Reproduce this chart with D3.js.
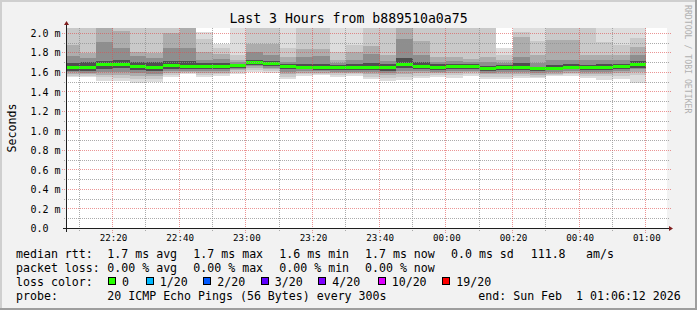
<!DOCTYPE html>
<html>
<head>
<meta charset="utf-8">
<script src="https://cdnjs.cloudflare.com/ajax/libs/d3/7.8.5/d3.min.js"></script>
<style>
  body { margin: 0; background: #f2f2f2; }
  svg text { font-family: "DejaVu Sans Mono", monospace; fill: #000; }
</style>
</head>
<body>
<div id="plot"></div>
<script>
// ---- chart data ----
const title = "Last 3 Hours from b889510a0a75";
const yLabel = "Seconds";
const watermark = "RRDTOOL / TOBI OETIKER";

const yTicks = [0, 0.2, 0.4, 0.6, 0.8, 1.0, 1.2, 1.4, 1.6, 1.8, 2.0];
const yMinorTicks = [0.1, 0.3, 0.5, 0.7, 0.9, 1.1, 1.3, 1.5, 1.7, 1.9];
const xTickLabels = ["22:20", "22:40", "23:00", "23:20", "23:40", "00:00", "00:20", "00:40", "01:00"];
const xMinorLabels = ["22:10", "22:30", "22:50", "23:10", "23:30", "23:50", "00:10", "00:30", "00:50"];

// median rtt per 5 minute step (ms), 22:10 .. 01:00
const median = [1.643, 1.645, 1.68, 1.68, 1.66, 1.645, 1.665, 1.66, 1.655, 1.655,
  1.67, 1.70, 1.69, 1.653, 1.65, 1.645, 1.65, 1.65, 1.65, 1.645,
  1.675, 1.66, 1.645, 1.66, 1.652, 1.64, 1.645, 1.65, 1.635, 1.64,
  1.65, 1.643, 1.645, 1.655, 1.675];
// lost pings out of 20 per step
const loss = [0, 0, 0, 0, 0, 0, 0, 0, 0, 0, 0, 0, 0, 0, 0, 0, 0, 0, 0, 0,
  0, 0, 0, 0, 0, 0, 0, 0, 0, 0, 0, 0, 0, 0, 0];
// smoke: upper edges (outermost hi1 .. innermost hi5), ms
const hi1 = [2.3, 2.3, 2.3, 2.3, 2.3, 2.3, 2.3, 2.3, 2.01, 1.89,
  2.3, 2.3, 2.3, 2.3, 2.3, 2.3, 2.3, 2.3, 2.3, 2.3,
  2.3, 2.3, 2.3, 2.3, 2.3, 2.3, 1.846, 2.3, 2.3, 2.3,
  2.3, 2.3, 2.3, 2.3, 2.3];
const hi2 = [2.2, 2.2, 2.2, 2.2, 2.2, 2.2, 2.07, 2.2, 1.94, 1.84,
  1.77, 2.2, 2.2, 1.84, 2.2, 2.2, 1.80, 1.88, 2.2, 2.2,
  2.2, 2.2, 2.2, 2.2, 2.2, 2.2, 1.775, 2.007, 1.92, 2.2,
  2.2, 2.2, 1.905, 1.88, 1.95];
const hi3 = [1.88, 1.79, 2.2, 2.02, 1.80, 1.79, 2.0, 2.2, 1.80, 1.78,
  1.72, 1.89, 1.89, 1.75, 1.83, 1.83, 1.72, 1.80, 1.87, 1.775,
  2.2, 1.92, 1.755, 1.755, 1.735, 1.755, 1.72, 1.96, 1.775, 1.93,
  1.93, 1.775, 1.775, 1.775, 1.855];
const hi4 = [1.76, 1.745, 1.91, 1.85, 1.76, 1.74, 1.85, 1.85, 1.72, 1.73,
  1.70, 1.80, 1.77, 1.70, 1.75, 1.76, 1.69, 1.72, 1.78, 1.71,
  1.94, 1.775, 1.70, 1.71, 1.70, 1.70, 1.69, 1.75, 1.69, 1.72,
  1.72, 1.72, 1.72, 1.72, 1.775];
const hi5 = [1.69, 1.70, 1.71, 1.72, 1.70, 1.70, 1.71, 1.71, 1.69, 1.69,
  1.685, 1.72, 1.71, 1.68, 1.68, 1.68, 1.67, 1.68, 1.69, 1.68,
  1.745, 1.70, 1.68, 1.685, 1.68, 1.66, 1.67, 1.69, 1.655, 1.67,
  1.68, 1.67, 1.68, 1.685, 1.71];
// smoke: lower edges (innermost lo5 .. outermost lo1), ms
const lo5 = [1.613, 1.61, 1.63, 1.64, 1.62, 1.61, 1.63, 1.63, 1.625, 1.63,
  1.645, 1.675, 1.665, 1.625, 1.625, 1.62, 1.62, 1.62, 1.62, 1.61,
  1.64, 1.63, 1.615, 1.63, 1.625, 1.61, 1.62, 1.62, 1.61, 1.615,
  1.625, 1.615, 1.615, 1.63, 1.645];
const lo4 = [1.60, 1.59, 1.60, 1.60, 1.59, 1.58, 1.61, 1.61, 1.61, 1.61,
  1.63, 1.66, 1.645, 1.60, 1.61, 1.605, 1.60, 1.60, 1.60, 1.59,
  1.61, 1.61, 1.60, 1.61, 1.61, 1.59, 1.60, 1.60, 1.59, 1.60,
  1.61, 1.60, 1.60, 1.61, 1.625];
const lo3 = [1.58, 1.575, 1.57, 1.57, 1.56, 1.56, 1.59, 1.60, 1.59, 1.59,
  1.615, 1.64, 1.625, 1.58, 1.59, 1.59, 1.585, 1.59, 1.575, 1.57,
  1.58, 1.585, 1.585, 1.59, 1.595, 1.575, 1.575, 1.58, 1.57, 1.58,
  1.59, 1.58, 1.58, 1.59, 1.60];
const lo2 = [1.56, 1.56, 1.55, 1.54, 1.53, 1.53, 1.57, 1.59, 1.57, 1.575,
  1.60, 1.62, 1.61, 1.55, 1.575, 1.58, 1.57, 1.575, 1.55, 1.54,
  1.55, 1.56, 1.57, 1.565, 1.575, 1.55, 1.55, 1.56, 1.55, 1.57,
  1.575, 1.56, 1.56, 1.56, 1.57];
const lo1 = [1.545, 1.545, 1.51, 1.51, 1.49, 1.50, 1.55, 1.58, 1.55, 1.56,
  1.58, 1.60, 1.59, 1.525, 1.56, 1.565, 1.545, 1.56, 1.525, 1.51,
  1.52, 1.535, 1.55, 1.535, 1.555, 1.525, 1.525, 1.535, 1.535, 1.555,
  1.56, 1.54, 1.52, 1.525, 1.49];

const lossLabels = ["0", "1/20", "2/20", "3/20", "4/20", "10/20", "19/20"];
const lossSteps = [0, 1, 2, 3, 4, 10, 19];
const lossColors = ["#26ff00", "#00b8ff", "#0059ff", "#5e00ff", "#7e00ff", "#dd00ff", "#ff0000"];

const rttStats = ["1.7 ms avg", "1.7 ms max", "1.6 ms min", "1.7 ms now", "0.0 ms sd", "111.8", "am/s"];
const lossStats = ["0.00 % avg", "0.00 % max", "0.00 % min", "0.00 % now"];
const probeText = "20 ICMP Echo Pings (56 Bytes) every 300s";
const endText = "end: Sun Feb  1 01:06:12 2026";

const startTime = new Date(2026, 0, 31, 22, 6, 12);
const endTime = new Date(2026, 1, 1, 1, 6, 12);
const stepEnds = d3.timeMinutes(new Date(2026, 0, 31, 22, 10), new Date(2026, 1, 1, 1, 1), 5);

function labelToDate(s) {
  const p = s.split(":").map(Number);
  return p[0] >= 12 ? new Date(2026, 0, 31, p[0], p[1]) : new Date(2026, 1, 1, p[0], p[1]);
}

drawChart();

function drawChart() {
  const width = 697;
  const height = 310;
  const left = 67, right = 667, top = 28, bottom = 228;

  const svg = d3.select("#plot").append("svg")
    .attr("width", width)
    .attr("height", height);

  svg.append("rect").attr("width", width).attr("height", height).attr("fill", "#f2f2f2");
  // shaded frame
  svg.append("rect").attr("x", 0).attr("y", 0).attr("width", width).attr("height", 2).attr("fill", "#cfcfcf");
  svg.append("rect").attr("x", 0).attr("y", 0).attr("width", 2).attr("height", height).attr("fill", "#cfcfcf");
  svg.append("rect").attr("x", 0).attr("y", height - 2).attr("width", width).attr("height", 2).attr("fill", "#9e9e9e");
  svg.append("rect").attr("x", width - 2).attr("y", 0).attr("width", 2).attr("height", height).attr("fill", "#9e9e9e");

  const x = d3.scaleTime().domain([startTime, endTime]).range([left, right]);
  const y = d3.scaleLinear().domain([0, 2.05]).range([bottom, top]);

  svg.append("rect")
    .attr("x", left).attr("y", top)
    .attr("width", right - left).attr("height", bottom - top)
    .attr("fill", "#fff");

  svg.append("clipPath").attr("id", "clip")
    .append("rect")
    .attr("x", left).attr("y", top)
    .attr("width", right - left).attr("height", bottom - top);

  // smoke
  const hiBands = [hi1, hi2, hi3, hi4, hi5];
  const loBands = [lo1, lo2, lo3, lo4, lo5];
  const smokeColors = ["#dddddd", "#c9c9c9", "#adadad", "#8e8e8e", "#4f4f4f"];
  const smoke = svg.append("g").attr("clip-path", "url(#clip)").attr("shape-rendering", "crispEdges");

  hiBands.forEach(function (hi, i) {
    smoke.append("g")
      .selectAll("rect")
      .data(stepEnds)
      .enter()
      .append("rect")
      .attr("x", (d) => x(d3.timeMinute.offset(d, -5)))
      .attr("width", (d) => x(d) - x(d3.timeMinute.offset(d, -5)))
      .attr("y", (d, k) => y(hi[k]))
      .attr("height", (d, k) => y(loBands[i][k]) - y(hi[k]))
      .attr("fill", smokeColors[i]);
  });

  const lossColor = d3.scaleThreshold().domain(lossSteps.slice(1)).range(lossColors);

  smoke.append("g")
    .selectAll("rect")
    .data(stepEnds)
    .enter()
    .append("rect")
    .attr("x", (d) => x(d3.timeMinute.offset(d, -5)))
    .attr("width", (d) => x(d) - x(d3.timeMinute.offset(d, -5)))
    .attr("y", (d, k) => y(median[k]) - 1.5)
    .attr("height", 3)
    .attr("fill", (d, k) => lossColor(loss[k]));

  // grid, 1px dotted lines on pixel centres
  const grid = svg.append("g").attr("shape-rendering", "crispEdges");
  const pxX = (v) => Math.floor(v - 0.5) + 0.5;
  const pxY = (v) => Math.round(v) + 0.5;
  const minorCol = "rgba(143,143,143,0.75)";
  const majorCol = "rgba(222,79,79,0.6)";

  grid.selectAll(".hminor").data(yMinorTicks).enter().append("line")
    .attr("x1", left - 3).attr("x2", right + 2)
    .attr("y1", (d) => pxY(y(d))).attr("y2", (d) => pxY(y(d)))
    .attr("stroke", minorCol).attr("stroke-dasharray", "1,1");
  grid.selectAll(".vminor").data(xMinorLabels.map(labelToDate)).enter().append("line")
    .attr("x1", (d) => pxX(x(d))).attr("x2", (d) => pxX(x(d)))
    .attr("y1", top).attr("y2", bottom + 3)
    .attr("stroke", minorCol).attr("stroke-dasharray", "1,1");
  grid.selectAll(".hmajor").data(yTicks.slice(1)).enter().append("line")
    .attr("x1", left - 5).attr("x2", right + 4)
    .attr("y1", (d) => pxY(y(d))).attr("y2", (d) => pxY(y(d)))
    .attr("stroke", majorCol).attr("stroke-dasharray", "1,1");
  grid.selectAll(".vmajor").data(xTickLabels.map(labelToDate)).enter().append("line")
    .attr("x1", (d) => pxX(x(d))).attr("x2", (d) => pxX(x(d)))
    .attr("y1", top).attr("y2", bottom + 5)
    .attr("stroke", majorCol).attr("stroke-dasharray", "1,1");

  // axes with labels
  const xAxis = d3.axisBottom(x)
    .tickValues(xTickLabels.map(labelToDate))
    .tickFormat((d, i) => xTickLabels[i])
    .tickSize(0);
  const gx = svg.append("g").attr("transform", `translate(0, ${bottom})`).call(xAxis);
  gx.select(".domain").remove();
  gx.selectAll(".tick line").remove();
  gx.selectAll(".tick text")
    .attr("y", 12.7).attr("dy", 0)
    .style("font-size", "9.2px").attr("fill", "#000");

  const yAxis = d3.axisLeft(y)
    .tickValues(yTicks)
    .tickFormat((d) => (d === 0 ? "0.0" : d3.format(".1f")(d) + " m"))
    .tickSize(0);
  const gy = svg.append("g").attr("transform", `translate(${left}, 0)`).call(yAxis);
  gy.select(".domain").remove();
  gy.selectAll(".tick line").remove();
  gy.selectAll(".tick text")
    .attr("x", 30.5 - left).attr("dy", 3.6)
    .attr("text-anchor", "start")
    .style("font-size", "10px").attr("fill", "#000");

  // axis lines and arrows
  svg.append("line").attr("x1", left - 0.5).attr("x2", left - 0.5)
    .attr("y1", bottom + 4).attr("y2", top - 4)
    .attr("stroke", "#1f1f1f");
  svg.append("line").attr("x1", left - 4).attr("x2", right + 3)
    .attr("y1", bottom + 0.5).attr("y2", bottom + 0.5)
    .attr("stroke", "#1f1f1f");
  svg.append("path")
    .attr("d", `M${left - 3},${top - 3} L${left - 0.5},${top - 7} L${left + 2},${top - 3} Z`)
    .attr("fill", "#801f1f");
  svg.append("path")
    .attr("d", `M${right + 2},${bottom - 2} L${right + 6},${bottom + 0.5} L${right + 2},${bottom + 3} Z`)
    .attr("fill", "#801f1f");

  // title and labels
  svg.append("text")
    .attr("x", 348.5).attr("y", 23)
    .attr("text-anchor", "middle")
    .style("font-size", "13.2px")
    .text(title);

  svg.append("text")
    .attr("transform", "translate(15.5, 128) rotate(-90)")
    .attr("text-anchor", "middle")
    .style("font-size", "11.6px")
    .text(yLabel);

  svg.append("text")
    .attr("transform", "translate(685, 5) rotate(90)")
    .style("font-size", "8.2px")
    .style("fill", "#b0b0b0")
    .text(watermark);

  // legend
  const legend = svg.append("g").style("font-size", "11.6px");
  const cols = [107.3, 193.3, 279.3, 365, 451, 530.7, 586];

  legend.append("text").attr("x", 16).attr("y", 258).text("median rtt:");
  legend.selectAll(".rtt").data(rttStats).enter().append("text")
    .attr("x", (d, i) => cols[i]).attr("y", 258).text((d) => d);

  legend.append("text").attr("x", 16).attr("y", 272).text("packet loss:");
  legend.selectAll(".loss").data(lossStats).enter().append("text")
    .attr("x", (d, i) => cols[i]).attr("y", 272).text((d) => d);

  legend.append("text").attr("x", 16).attr("y", 286).text("loss color:");
  const boxX = [108, 145.7, 203.3, 260.7, 318.3, 377.7, 442.3];
  const item = legend.selectAll(".lc").data(lossLabels).enter().append("g");
  item.append("rect")
    .attr("x", (d, i) => Math.round(boxX[i]) + 0.5).attr("y", 277.5)
    .attr("width", 7).attr("height", 7)
    .attr("fill", (d, i) => lossColors[i])
    .attr("stroke", "#000");
  item.append("text")
    .attr("x", (d, i) => boxX[i] + 14).attr("y", 286)
    .text((d) => d);

  legend.append("text").attr("x", 16).attr("y", 300).text("probe:");
  legend.append("text").attr("x", 107.3).attr("y", 300).text(probeText);
  legend.append("text").attr("x", 478.3).attr("y", 300).style("white-space", "pre").text(endText);
}
</script>
</body>
</html>
